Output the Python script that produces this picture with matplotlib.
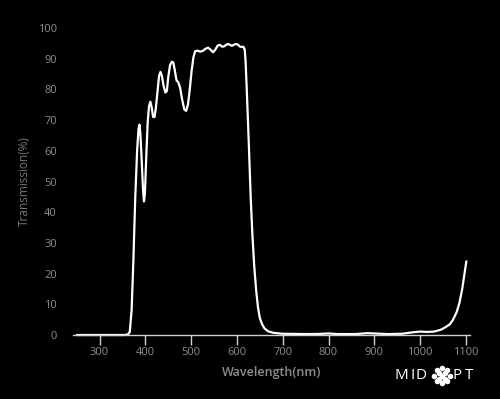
import matplotlib
matplotlib.use("Agg")
import matplotlib.pyplot as plt
import numpy as np

# transmission curve
wavelength = [250, 300, 355, 362, 366, 370, 374, 378, 382, 385, 387, 389, 392, 395, 397, 399,
              402, 405, 408, 411, 414, 417, 420, 423, 427, 430, 433, 436, 440, 444, 447, 450,
              454, 458, 461, 464, 468, 472, 476, 480, 485, 489, 493, 497, 501, 505, 509, 514,
              520, 526, 532, 537, 542, 548, 553, 558, 563, 568, 572, 577, 581, 585, 589, 594,
              598, 602, 606, 610, 614, 617, 619, 622, 626, 630, 634, 638, 642, 646, 650, 655,
              660, 668, 680, 700, 750, 780, 800, 820, 860, 885, 900, 930, 960, 985, 1000, 1015,
              1030, 1045, 1055, 1065, 1072, 1080, 1086, 1092, 1097, 1101]
transmission = [0, 0, 0, 0.2, 1, 8, 25, 45, 60, 67, 68.5, 66, 57, 47, 43.5, 46,
                58, 69, 74.5, 76, 74, 71, 71, 74, 80, 84.5, 85.7, 84.5, 81, 79, 79.5, 84,
                88, 89, 88.8, 86.5, 83, 82.3, 80.5, 77, 73.5, 73, 75, 80, 86, 90.5, 92.5, 92.6,
                92.3, 92.6, 93.3, 93.6, 93, 92.1, 93, 94.3, 94.5, 93.9, 94, 94.6, 94.8, 94.5, 94.2, 94.6,
                94.8, 94.6, 94, 93.8, 93.9, 93, 89, 78, 62, 45, 32, 22, 14.5, 9, 5.5, 3.5,
                2.2, 1.2, 0.7, 0.4, 0.3, 0.35, 0.5, 0.3, 0.3, 0.6, 0.5, 0.3, 0.4, 0.9, 1.1, 1.0,
                1.1, 1.7, 2.5, 3.5, 5, 7.5, 10.5, 15, 20, 24]

x_ticks = [300, 400, 500, 600, 700, 800, 900, 1000, 1100]
y_ticks = [0, 10, 20, 30, 40, 50, 60, 70, 80, 90, 100]

plt.rcParams["font.family"] = ["Open Sans", "DejaVu Sans"]

fig = plt.figure(figsize=(5, 3.99), dpi=100, facecolor="black")
ax = fig.add_axes([0.146, 0.1604, 0.794, 0.7694], facecolor="black")

ax.plot(wavelength, transmission, color="white", lw=1.6, clip_on=False, solid_capstyle="round")

ax.set_xlim(242, 1109)
ax.set_ylim(0, 100)
ax.set_xticks(x_ticks)
ax.set_yticks(y_ticks)

for s in ["top", "right", "left"]:
    ax.spines[s].set_visible(False)
ax.spines["bottom"].set_color("#d0d0d0")
ax.spines["bottom"].set_linewidth(1)

ax.tick_params(axis="x", colors="#d0d0d0", length=7, width=1, pad=1.5,
               labelcolor="#8c8c8c", labelsize=8)
ax.tick_params(axis="y", length=0, pad=11.5, labelcolor="#8c8c8c", labelsize=8)

ax.set_xlabel("Wavelength(nm)", color="#8c8c8c", fontsize=9, fontweight="semibold", labelpad=6)
ax.set_ylabel("Transmission(%)", color="#777777", fontsize=8.5, labelpad=5)

# MIDOPT logo, letters placed one by one to mimic the wide logo type
ly = 0.058
for ch, lx in [("M", 0.789), ("I", 0.820), ("D", 0.831), ("P", 0.905), ("T", 0.930)]:
    fig.text(lx, ly, ch, color="white", fontsize=11, ha="left", va="center")
cx, r = 0.884, 0.019
ang = np.linspace(0, 2 * np.pi, 9)[:-1]
ang2 = np.linspace(0, 2 * np.pi, 5)[:-1] + np.pi / 4
dots_x = [cx] + list(cx + r * 0.8 * np.cos(ang)) + list(cx + r * 0.4 * np.cos(ang2))
dots_y = [ly] + list(ly + r * 0.8 * 500 / 399 * np.sin(ang)) + list(ly + r * 0.4 * 500 / 399 * np.sin(ang2))
fig.add_artist(plt.Line2D(dots_x, dots_y, ls="none", marker="o", ms=3.0,
                          color="white", transform=fig.transFigure))

fig.savefig("out.png", dpi=100, facecolor="black")
